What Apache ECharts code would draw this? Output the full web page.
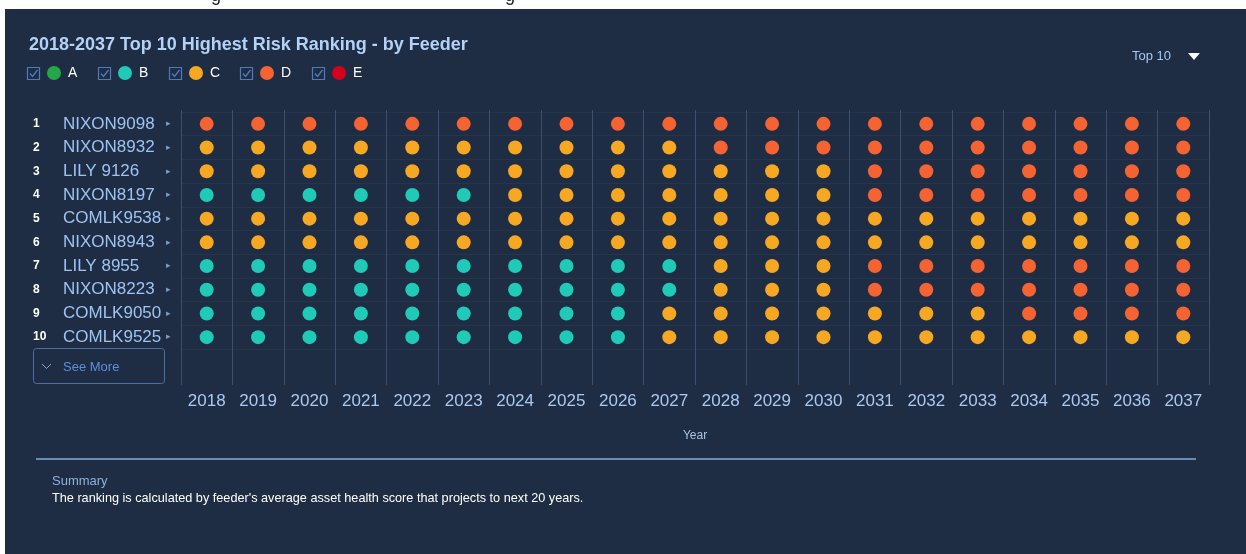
<!DOCTYPE html>
<html>
<head>
<meta charset="utf-8">
<script src="https://cdn.jsdelivr.net/npm/echarts@6/dist/echarts.min.js"></script>
<style>
html,body{margin:0;padding:0;background:#ffffff;}
#chart{width:1246px;height:554px;}
</style>
</head>
<body>
<div id="chart"></div>
<script>
// ---- data ----
const years = ['2018','2019','2020','2021','2022','2023','2024','2025','2026','2027','2028','2029','2030','2031','2032','2033','2034','2035','2036','2037'];
const ranks = ['1','2','3','4','5','6','7','8','9','10'];
const feeders = ['NIXON9098','NIXON8932','LILY 9126','NIXON8197','COMLK9538','NIXON8943','LILY 8955','NIXON8223','COMLK9050','COMLK9525'];
const grades = ['A','B','C','D','E'];
const gradeColors = ['#22a847','#1fcab7','#f7a823','#f56332','#d3011c'];
// risk grade of each feeder per year, 2018 -> 2037
const row1  = ['D','D','D','D','D','D','D','D','D','D','D','D','D','D','D','D','D','D','D','D'];
const row2  = ['C','C','C','C','C','C','C','C','C','C','D','D','D','D','D','D','D','D','D','D'];
const row3  = ['C','C','C','C','C','C','C','C','C','C','C','C','C','D','D','D','D','D','D','D'];
const row4  = ['B','B','B','B','B','B','C','C','C','C','C','C','C','D','D','D','D','D','D','D'];
const row5  = ['C','C','C','C','C','C','C','C','C','C','C','C','C','C','C','C','C','C','C','C'];
const row6  = ['C','C','C','C','C','C','C','C','C','C','C','C','C','C','C','C','C','C','C','C'];
const row7  = ['B','B','B','B','B','B','B','B','B','B','C','C','C','D','D','D','D','D','D','D'];
const row8  = ['B','B','B','B','B','B','B','B','B','B','C','C','C','D','D','D','D','D','D','D'];
const row9  = ['B','B','B','B','B','B','B','B','B','C','C','C','C','C','C','C','D','D','D','D'];
const row10 = ['B','B','B','B','B','B','B','B','B','C','C','C','C','C','C','C','C','C','C','C'];
const gradeRows = [row1,row2,row3,row4,row5,row6,row7,row8,row9,row10];

// ---- build ----
const FONT = '"Liberation Sans", Arial, Helvetica, sans-serif';
const chart = echarts.init(document.getElementById('chart'), null, {renderer:'canvas'});

const series = grades.map(function(g, gi){
  const data = [];
  gradeRows.forEach(function(row, ri){
    row.forEach(function(v, yi){ if (v === g) data.push([yi, ri]); });
  });
  return {
    name: g, type: 'scatter', xAxisIndex: 0, yAxisIndex: 0,
    symbol: 'circle', symbolSize: 14,
    itemStyle: {color: gradeColors[gi], opacity: 1},
    emphasis: {scale: false},
    data: data, z: 5
  };
});

const legendLeft = [47, 118, 189, 260, 332];
const legends = grades.map(function(g, gi){
  return {
    data: [g], left: legendLeft[gi], top: 66, padding: 0,
    icon: 'circle', itemWidth: 14, itemHeight: 14, itemGap: 0,
    itemStyle: {opacity: 1},
    textStyle: {color: '#ffffff', fontSize: 14, fontFamily: FONT, padding: [0,0,0,2]},
    inactiveColor: '#55657d'
  };
});

const graphics = [
  {type:'rect', left:0, top:0, shape:{width:1246, height:9}, style:{fill:'#ffffff'}, z:100},
  {type:'rect', left:0, top:0, shape:{width:5, height:554}, style:{fill:'#ffffff'}, z:100},
  {type:'text', x:211, y:5, style:{text:'g', fill:'#222', font:'18px ' + FONT, verticalAlign:'bottom'}, z:101},
  {type:'text', x:505, y:5, style:{text:'g', fill:'#222', font:'18px ' + FONT, verticalAlign:'bottom'}, z:101},
  // top-right selector
  {type:'text', x:1132, y:56, style:{text:'Top 10', fill:'#a6c9f3', font:'13px ' + FONT, verticalAlign:'middle'}},
  {type:'polygon', shape:{points:[[1188,53],[1200,53],[1194,60]]}, style:{fill:'#ffffff'}},
  // see more button
  {type:'rect', shape:{x:33.5, y:348.5, width:131, height:35, r:3}, style:{fill:'none', stroke:'#4b6ea3', lineWidth:1}},
  {type:'polyline', shape:{points:[[42,364],[46.5,368.5],[51,364]]}, style:{stroke:'#8aa6cf', lineWidth:1, fill:'none'}},
  {type:'text', x:63, y:367, style:{text:'See More', fill:'#5a8edf', font:'13px ' + FONT, verticalAlign:'middle'}},
  // separator
  {type:'line', shape:{x1:36, y1:459, x2:1196, y2:459}, style:{stroke:'#6a8ab3', lineWidth:2}},
  {type:'text', x:52, y:481, style:{text:'Summary', fill:'#8eb1dc', font:'13px ' + FONT, verticalAlign:'middle'}},
  {type:'text', x:52, y:498, style:{text:"The ranking is calculated by feeder's average asset health score that projects to next 20 years.", fill:'#ffffff', font:'12.7px ' + FONT, verticalAlign:'middle'}}
];
// legend checkboxes
legendLeft.forEach(function(lx){
  const x = lx - 19.5, y = 67.5;
  graphics.push({type:'rect', shape:{x:x, y:y, width:12, height:12}, style:{fill:'none', stroke:'#4f7bbd', lineWidth:1.2}});
  graphics.push({type:'polyline', shape:{points:[[x+2.5,y+6],[x+5,y+9],[x+10,y+2.5]]}, style:{fill:'none', stroke:'#4f7bbd', lineWidth:1.3}});
});

const option = {
  backgroundColor: '#1e2d43',
  animation: false,
  textStyle: {fontFamily: FONT},
  title: {
    text: '2018-2037 Top 10 Highest Risk Ranking - by Feeder',
    left: 29, top: 36, padding: 0,
    textStyle: {color:'#b3d2f7', fontSize:18, fontWeight:'bold', fontFamily: FONT}
  },
  legend: legends,
  grid: [
    {left:181, right:37, top:112, height:237},
    {left:181, right:37, top:110, height:275}
  ],
  xAxis: [
    {type:'category', gridIndex:0, data:years, show:false, boundaryGap:true},
    {type:'category', gridIndex:1, data:years, boundaryGap:true,
     axisLine:{show:false}, axisTick:{show:false},
     splitLine:{show:true, lineStyle:{color:'#3b506e', width:1}},
     axisLabel:{color:'#a9c9f2', fontSize:17, margin:8, fontFamily: FONT},
     name:'Year', nameLocation:'middle', nameGap:45,
     nameTextStyle:{color:'#a7c3e6', fontSize:12, fontFamily: FONT}}
  ],
  yAxis: [
    {type:'category', gridIndex:0, data:feeders, inverse:true,
     axisLine:{show:false}, axisTick:{show:false},
     splitLine:{show:true, lineStyle:{color:'rgba(110,140,180,0.09)', width:1}},
     axisLabel:{
       margin:148, align:'left',
       formatter: function(v, i){ return '{r|' + ranks[i] + '}{n|' + v + '}{t|\u25B8}'; },
       rich:{
         r:{color:'#ffffff', fontSize:12, fontWeight:'bold', width:30, fontFamily: FONT},
         n:{color:'#9ec3f2', fontSize:17, width:103, fontFamily: FONT},
         t:{color:'#7e9cc4', fontSize:9, fontFamily:'DejaVu Sans'}
       }
     }},
    {type:'value', gridIndex:1, show:false, min:0, max:1}
  ],
  graphic: graphics,
  series: series
};
chart.setOption(option);
</script>
</body>
</html>
